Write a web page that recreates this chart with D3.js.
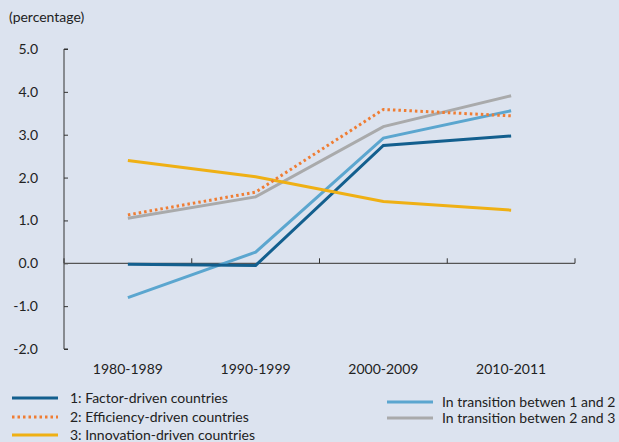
<!DOCTYPE html>
<html>
<head>
<meta charset="utf-8">
<script src="https://d3js.org/d3.v7.min.js"></script>
<style>
  body { margin: 0; background: #dce3ef; }
  svg { font-family: Lato, "Open Sans", sans-serif; }
</style>
</head>
<body>
<svg id="chart" width="619" height="442"></svg>
<script>
const periods = ["1980-1989", "1990-1999", "2000-2009", "2010-2011"];
const factorDriven = [-0.02, -0.05, 2.75, 2.97];
const efficiencyDriven = [1.13, 1.66, 3.59, 3.44];
const innovationDriven = [2.40, 2.02, 1.44, 1.24];
const transition12 = [-0.80, 0.26, 2.92, 3.56];
const transition23 = [1.05, 1.55, 3.19, 3.91];
const yTicks = [-2, -1, 0, 1, 2, 3, 4, 5];

const series = [
  { name: "1: Factor-driven countries", values: factorDriven, color: "#135f8e", dash: null },
  { name: "2: Efficiency-driven countries", values: efficiencyDriven, color: "#ef7d33", dash: "2.5,3" },
  { name: "3: Innovation-driven countries", values: innovationDriven, color: "#efb014", dash: null },
  { name: "In transition betwen 1 and 2", values: transition12, color: "#5ba6cf", dash: null },
  { name: "In transition betwen 2 and 3", values: transition23, color: "#a9aaab", dash: null }
];

const svg = d3.select("#chart");
const plotLeft = 64, plotRight = 575, plotTop = 49, plotBottom = 349;

const x = d3.scaleBand().domain(periods).range([plotLeft, plotRight]);
const y = d3.scaleLinear().domain([-2, 5]).range([plotBottom, plotTop]);

svg.append("text").attr("x", 9).attr("y", 22)
  .attr("font-size", 14).attr("fill", "#222").text("(percentage)");

// y axis
const ya = svg.append("g").attr("transform", `translate(${plotLeft},0)`)
  .call(d3.axisRight(y).tickValues(yTicks).tickSize(4).tickFormat(d => d.toFixed(1)));
ya.select(".domain").attr("stroke", "#333").attr("d", `M4,${plotBottom}H0V${plotTop}H4`);
ya.selectAll(".tick line").attr("stroke", "#333");
ya.selectAll(".tick text").attr("x", -26).attr("text-anchor", "end")
  .attr("font-size", 14).attr("fill", "#222").attr("font-family", "Lato, sans-serif");

// x axis line at zero with upward ticks
const xa = svg.append("g").attr("transform", `translate(0,${y(0)})`);
xa.append("line").attr("x1", plotLeft).attr("x2", plotRight).attr("stroke", "#555").attr("stroke-width", 1.2);
const bounds = periods.map(p => x(p)).concat([plotRight]);
xa.selectAll(".xt").data(bounds).enter().append("line")
  .attr("x1", d => d).attr("x2", d => d).attr("y1", 0).attr("y2", -5)
  .attr("stroke", "#333");

svg.selectAll(".xl").data(periods).enter().append("text")
  .attr("x", d => x(d) + x.bandwidth() / 2).attr("y", 374)
  .attr("text-anchor", "middle").attr("font-size", 14).attr("fill", "#222")
  .text(d => d);

const line = d3.line()
  .x((d, i) => x(periods[i]) + x.bandwidth() / 2)
  .y(d => y(d));

const order = [3, 4, 0, 2, 1];
order.forEach(k => {
  const s = series[k];
  svg.append("path").datum(s.values)
    .attr("d", line).attr("fill", "none")
    .attr("stroke", s.color).attr("stroke-width", 3)
    .attr("stroke-dasharray", s.dash);
});

// legend
const legPos = [
  { lx: 12, ly: 398, tx: 70 }, { lx: 12, ly: 417, tx: 70 }, { lx: 12, ly: 435, tx: 70 },
  { lx: 387, ly: 402, tx: 442 }, { lx: 387, ly: 418, tx: 442 }
];
series.forEach((s, i) => {
  const p = legPos[i];
  svg.append("line").attr("x1", p.lx).attr("x2", p.lx + 46)
    .attr("y1", p.ly).attr("y2", p.ly)
    .attr("stroke", s.color).attr("stroke-width", 3)
    .attr("stroke-dasharray", s.dash);
  svg.append("text").attr("x", p.tx).attr("y", p.ly + 5)
    .attr("font-size", 14).attr("fill", "#222").text(s.name);
});
</script>
</body>
</html>
